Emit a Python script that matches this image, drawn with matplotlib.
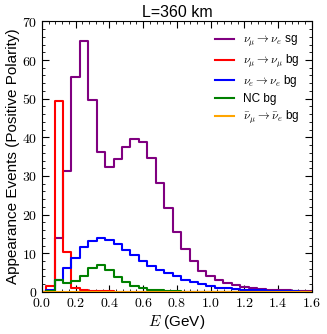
import numpy as np
import matplotlib
matplotlib.use('Agg')
from matplotlib import pyplot as plt
from matplotlib.ticker import AutoMinorLocator, MultipleLocator, FuncFormatter

plt.rcParams['font.family'] = ['Liberation Sans', 'DejaVu Sans']
plt.rcParams['mathtext.fontset'] = 'cm'

# bin centres (GeV), 0.05 wide
energy = np.round(np.arange(0, 1.6001, 0.05), 2)

sig_numu_nue = [0.0, 0.2, 14.0, 31.4, 55.5, 65.0, 49.7, 36.2, 32.4, 34.3, 37.5, 39.6,
                38.8, 34.6, 28.2, 21.8, 15.5, 11.0, 7.9, 5.5, 4.1, 3.0, 2.3, 1.7,
                1.3, 1.0, 0.8, 0.6, 0.5, 0.4, 0.3, 0.3, 0.2]
bg_numu_numu = [0.0, 1.5, 49.4, 10.2, 0.9, 0.6, 0.3, 0.2, 0.2, 0.1, 0.1, 0.1,
                0.1, 0.1, 0.0, 0.0, 0.0, 0.0, 0.0, 0.0, 0.0, 0.0, 0.0, 0.0,
                0.0, 0.0, 0.0, 0.0, 0.0, 0.0, 0.0, 0.0, 0.0]
bg_nue_nue = [0.0, 0.5, 3.0, 6.1, 8.8, 11.5, 13.1, 13.9, 13.4, 12.3, 10.8, 9.5,
              8.1, 6.8, 5.6, 4.8, 4.0, 3.2, 2.6, 2.0, 1.5, 1.1, 0.9, 0.7,
              0.6, 0.5, 0.4, 0.3, 0.3, 0.2, 0.2, 0.1, 0.1]
bg_nc = [0.0, 0.2, 3.1, 2.2, 2.7, 4.0, 6.1, 6.9, 5.6, 3.9, 2.6, 1.5,
         0.9, 0.6, 0.4, 0.3, 0.2, 0.1, 0.1, 0.1, 0.0, 0.0, 0.0, 0.0,
         0.0, 0.0, 0.0, 0.0, 0.0, 0.0, 0.0, 0.0, 0.0]
bg_anumu_anue = [0.0, 0.1, 0.1, 0.1, 0.1, 0.1, 0.1, 0.1, 0.1, 0.1, 0.1, 0.1,
                 0.1, 0.1, 0.1, 0.1, 0.1, 0.1, 0.1, 0.1, 0.1, 0.0, 0.0, 0.0,
                 0.0, 0.0, 0.0, 0.0, 0.0, 0.0, 0.0, 0.0, 0.0]

series = [
    (sig_numu_nue, 'purple', r'$\nu_\mu \rightarrow \nu_e$ sg'),
    (bg_numu_numu, 'red', r'$\nu_\mu \rightarrow \nu_\mu$ bg'),
    (bg_nue_nue, 'blue', r'$\nu_e \rightarrow \nu_e$ bg'),
    (bg_nc, 'green', 'NC bg'),
    (bg_anumu_anue, 'orange', r'$\bar{\nu}_\mu \rightarrow \bar{\nu}_e$ bg'),
]

fig = plt.figure(figsize=(3.27, 3.34), dpi=100)
ax = fig.add_axes([0.128, 0.126, 0.826, 0.81])

for vals, col, lab in series:
    ax.step(energy, vals, where='mid', color=col, lw=1.5, label=lab)

ax.set_xlim(0, 1.6)
ax.set_ylim(0, 70)
ax.xaxis.set_major_locator(MultipleLocator(0.2))
ax.yaxis.set_major_locator(MultipleLocator(10))
ax.xaxis.set_minor_locator(AutoMinorLocator(5))
ax.yaxis.set_minor_locator(AutoMinorLocator(5))
ax.xaxis.set_major_formatter(FuncFormatter(lambda v, p: r'$%.1f$' % v))
ax.yaxis.set_major_formatter(FuncFormatter(lambda v, p: r'$%d$' % v))
ax.tick_params(which='both', direction='in', top=True, right=True, labelsize=10)
ax.tick_params(which='major', length=5)
ax.tick_params(which='minor', length=2.5)
ax.tick_params(axis='x', pad=3)

ax.set_xlabel(r'$E$ (GeV)', fontsize=11, labelpad=2)
ax.set_ylabel('Appearance Events (Positive Polarity)', fontsize=11, labelpad=1)
ax.set_title('L=360 km', fontsize=11.5, pad=3)

ax.legend(loc='upper right', frameon=False, fontsize=8.5, handlelength=1.6,
          labelspacing=0.3, borderaxespad=0.6)

fig.savefig('out.png', dpi=100)
